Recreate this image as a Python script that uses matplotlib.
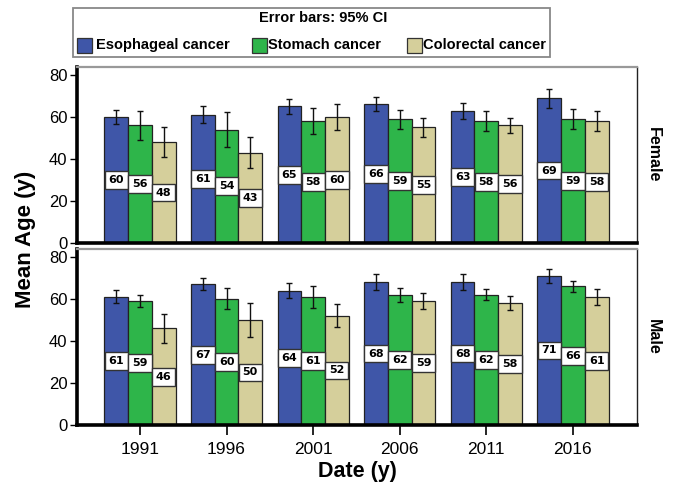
import matplotlib
matplotlib.use("Agg")
import matplotlib.pyplot as plt
from matplotlib.patches import Rectangle
import numpy as np

years = ["1991", "1996", "2001", "2006", "2011", "2016"]
series = ["Esophageal cancer", "Stomach cancer", "Colorectal cancer"]
colors = ["#3F56A8", "#2EB54A", "#D5CF9B"]

# Female panel
female_mean = {
    "Esophageal cancer": [60, 61, 65, 66, 63, 69],
    "Stomach cancer":    [56, 54, 58, 59, 58, 59],
    "Colorectal cancer": [48, 43, 60, 55, 56, 58],
}
female_ci = {
    "Esophageal cancer": [3.3, 4.0, 3.7, 3.3, 3.8, 4.5],
    "Stomach cancer":    [7.0, 8.5, 6.2, 4.5, 4.9, 4.8],
    "Colorectal cancer": [7.2, 7.5, 6.3, 4.4, 3.5, 4.8],
}
# Male panel
male_mean = {
    "Esophageal cancer": [61, 67, 64, 68, 68, 71],
    "Stomach cancer":    [59, 60, 61, 62, 62, 66],
    "Colorectal cancer": [46, 50, 52, 59, 58, 61],
}
male_ci = {
    "Esophageal cancer": [3.1, 2.8, 3.5, 3.8, 3.8, 3.2],
    "Stomach cancer":    [2.9, 5.0, 5.3, 3.4, 2.7, 2.8],
    "Colorectal cancer": [7.0, 8.0, 5.4, 3.8, 3.3, 3.9],
}
yticks = [0, 20, 40, 60, 80]

FONT = "Liberation Sans"
plt.rcParams["font.family"] = [FONT, "DejaVu Sans"]

W, H = 673, 488
fig = plt.figure(figsize=(W / 100, H / 100), dpi=100)

def fx(px):
    return px / W

def fy(py):
    return 1 - py / H

left, right = 77, 637
panels = [
    ("Female", female_mean, female_ci, 67, 243),
    ("Male", male_mean, male_ci, 249, 425),
]
x = np.arange(len(years))
bw = 0.274
offsets = [-bw, 0, bw]

for pi, (name, means, cis, top, bot) in enumerate(panels):
    ax = fig.add_axes([fx(left), fy(bot), fx(right) - fx(left), (bot - top) / H])
    for si, s in enumerate(series):
        xs = x + offsets[si]
        ax.bar(xs, means[s], width=bw, color=colors[si], edgecolor="#222222",
               linewidth=0.9, zorder=2)
        ax.errorbar(xs, means[s], yerr=cis[s], fmt="none", ecolor="#111111",
                    elinewidth=1.0, capsize=2.5, capthick=1.0, zorder=3)
        for xv, mv in zip(xs, means[s]):
            ax.text(xv, mv / 2, f"{mv:d}", ha="center", va="center",
                    fontsize=8, fontweight="bold", family="DejaVu Sans",
                    zorder=4,
                    bbox=dict(boxstyle="square,pad=0.35", fc="white",
                              ec="#333333", lw=1.0))
    ax.set_xlim(-0.727, 5.74)
    ax.set_ylim(0, 83.8)
    ax.set_yticks(yticks)
    ax.tick_params(axis="y", labelsize=12, length=5, width=1.0, pad=2)
    for sp in ["left", "bottom"]:
        ax.spines[sp].set_linewidth(2.6)
        ax.spines[sp].set_color("black")
    ax.spines["top"].set_linewidth(1.6)
    ax.spines["top"].set_color("#999999")
    ax.spines["right"].set_linewidth(1.0)
    ax.spines["right"].set_color("#222222")
    if pi == 0:
        ax.set_xticks([])
    else:
        ax.set_xticks(x)
        ax.set_xticklabels(years)
        ax.tick_params(axis="x", labelsize=12.5, length=7, width=1.2, pad=5)
    fig.text(fx(653), fy((top + bot) / 2), name, rotation=-90, ha="center",
             va="center", fontsize=11.5, fontweight="bold")

fig.text(fx(26), fy(239), "Mean Age (y)", rotation=90, ha="center", va="center",
         fontsize=16, fontweight="bold")
fig.text(fx(357), fy(471), "Date (y)", ha="center", va="center",
         fontsize=15.5, fontweight="bold")

# Legend box
fig.add_artist(Rectangle((fx(73), fy(57)), fx(550) - fx(73), (57 - 8) / H,
                         transform=fig.transFigure, fc="white", ec="#888888",
                         lw=1.3))
fig.text(fx(323), fy(18), "Error bars: 95% CI", ha="center", va="center",
         fontsize=10.5, fontweight="bold")
patch_x = [77, 252, 407]
text_x = [96, 268, 423]
for si, s in enumerate(series):
    fig.add_artist(Rectangle((fx(patch_x[si]), fy(52.5)), 15 / W, 15 / H,
                             transform=fig.transFigure, fc=colors[si],
                             ec="#333333", lw=0.9))
    fig.text(fx(text_x[si]), fy(45), s, ha="left", va="center",
             fontsize=10.5, fontweight="bold")

fig.savefig("out.png", dpi=100)
